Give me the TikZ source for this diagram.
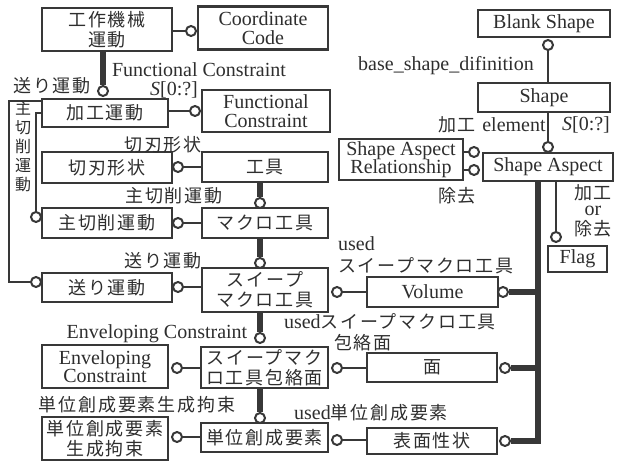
\documentclass[tikz,border=0pt]{standalone}
\usepackage{fontspec}
\setmainfont{Liberation Serif}
\newfontfamily\jp[LetterSpace=10]{Noto Sans CJK JP}
\newcommand{\J}[1]{{\jp\fontsize{18}{\baselineskip}\selectfont #1}}
\definecolor{linec}{gray}{0.22}
\definecolor{txtc}{gray}{0.18}
\begin{document}
\begin{tikzpicture}[x=1pt, y=-1pt,
  ent/.style={draw=linec, line width=2.4pt, fill=white, inner sep=0pt, text=txtc, align=center},
  lat/.style={font=\fontsize{20}{18.5}\selectfont},
  jpn/.style={font=\jp\fontsize{18}{20}\selectfont},
  ring/.style={circle, draw=linec, line width=2pt, fill=white, minimum size=10pt, inner sep=0pt},
  rel/.style={draw=linec, line width=2pt},
  isa/.style={draw=linec, line width=6pt},
  lbl/.style={text=txtc, inner sep=0pt, font=\fontsize{20}{17}\selectfont}]
    \useasboundingbox (0,0) rectangle (623,462);
    % entities, left half
    \node [ent, jpn, minimum width=130, minimum height=43] (kikai) at (107,29.5) {工作機械\\運動};
    \node [ent, lat, minimum width=130, minimum height=43] (coord) at (263,28) {Coordinate\\Code};
    \node [ent, jpn, minimum width=126, minimum height=28] (kakou) at (105,113) {加工運動};
    \node [ent, lat, minimum width=128, minimum height=42] (funccons) at (266,111) {Functional\\Constraint};
    \node [ent, jpn, minimum width=130, minimum height=31] (hakei) at (107,167.5) {切刃形状};
    \node [ent, jpn, minimum width=126, minimum height=30] (kougu) at (265,167) {工具};
    \node [ent, jpn, minimum width=130, minimum height=30] (shusaku) at (107,223) {主切削運動};
    \node [ent, jpn, minimum width=126, minimum height=30] (macro) at (265,223) {マクロ工具};
    \node [ent, jpn, minimum width=130, minimum height=29] (okuri) at (107,287.5) {送り運動};
    \node [ent, jpn, minimum width=126, minimum height=44] (sweep) at (265,290) {スイープ\\マクロ工具};
    \node [ent, lat, minimum width=126, minimum height=43] (envcons) at (105,366.5) {Enveloping\\Constraint};
    \node [ent, jpn, minimum width=127, minimum height=41] (houraku) at (264.5,367.5) {スイープマク\\ロ工具包絡面};
    \node [ent, jpn, minimum width=126, minimum height=43] (seiyaku) at (105,438.5) {単位創成要素\\生成拘束};
    \node [ent, jpn, minimum width=127, minimum height=29] (tani) at (264.5,437.5) {単位創成要素};
    % entities, right half
    \node [ent, lat, minimum width=131, minimum height=30] (volume) at (432.5,292) {Volume};
    \node [ent, jpn, minimum width=130, minimum height=29] (men) at (432,367.5) {面};
    \node [ent, jpn, minimum width=130, minimum height=26] (hyoumen) at (432,441) {表面性状};
    \node [ent, lat, minimum width=132, minimum height=27] (blank) at (544,23.5) {Blank Shape};
    \node [ent, lat, minimum width=132, minimum height=29] (shape) at (544,97.5) {Shape};
    \node [ent, lat, minimum width=130, minimum height=28] (aspect) at (548,167) {Shape Aspect};
    \node [ent, lat, minimum width=124, minimum height=41] (relation) at (401,159.5) {Shape Aspect\\Relationship};
    \node [ent, lat, minimum width=59, minimum height=26] (flag) at (577.5,259) {Flag};
    % rings
    \node [ring] (c1) at (191,31) {};
    \node [ring] (c2) at (103,91) {};
    \node [ring] (c3) at (195,111) {};
    \node [ring] (c4) at (178,167) {};
    \node [ring] (c5) at (260,203) {};
    \node [ring] (c6) at (178,223) {};
    \node [ring] (c7) at (260,263) {};
    \node [ring] (c8) at (178,287) {};
    \node [ring] (c9) at (260,338) {};
    \node [ring] (c10) at (177,368) {};
    \node [ring] (c11) at (260,418) {};
    \node [ring] (c12) at (177,437) {};
    \node [ring] (c13) at (337,292) {};
    \node [ring] (c14) at (503,292) {};
    \node [ring] (c15) at (337,368) {};
    \node [ring] (c16) at (505,368) {};
    \node [ring] (c17) at (337,440) {};
    \node [ring] (c18) at (505,441) {};
    \node [ring] (c19) at (548,45) {};
    \node [ring] (c20) at (548,147) {};
    \node [ring] (c21) at (474,152) {};
    \node [ring] (c22) at (474,170) {};
    \node [ring] (c23) at (556,237) {};
    \node [ring] (c24) at (36,282) {};
    \node [ring] (c25) at (36,217) {};
    \coordinate (tbot) at (538,441);
    % thick lines
    \draw [isa] (kikai.south -| c2) -- (c2);
    \draw [isa] (kougu.south -| c5) -- (c5);
    \draw [isa] (macro.south -| c7) -- (c7);
    \draw [isa] (sweep.south -| c9) -- (c9);
    \draw [isa] (houraku.south -| c11) -- (c11);
    \draw [isa] (aspect.south -| tbot) -- (tbot) -- (c18);
    \draw [isa] (c14) -- (c14 -| tbot);
    \draw [isa] (c16) -- (c16 -| tbot);
    % thin lines
    \draw [rel] (kikai.east |- c1) -- (c1);
    \draw [rel] (kakou.east |- c3) -- (c3);
    \draw [rel] (c4) -- (kougu.west |- c4);
    \draw [rel] (c6) -- (macro.west |- c6);
    \draw [rel] (c8) -- (sweep.west |- c8);
    \draw [rel] (c10) -- (houraku.west |- c10);
    \draw [rel] (c12) -- (tani.west |- c12);
    \draw [rel] (c13) -- (volume.west |- c13);
    \draw [rel] (c15) -- (men.west |- c15);
    \draw [rel] (c17) -- (hyoumen.west |- c17);
    \draw [rel] (c19) -- (shape.north -| c19);
    \draw [rel] (shape.south -| c20) -- (c20);
    \draw [rel] (relation.east |- c21) -- (c21);
    \draw [rel] (relation.east |- c22) -- (c22);
    \draw [rel] (aspect.south -| c23) -- (c23);
    \draw [rel] ([yshift=-3pt]kakou.north west) -- ++(-32,0) |- (c24);
    \draw [rel] (kakou.west) -- (kakou.west -| c25) -- (c25);
    % labels
    \node [lbl] (lokuri1) at (52,86) {\J{送り運動}};
    \node [lbl] (lfc) at (199,70) {Functional Constraint};
    \node [lbl] (lfcs) at (174,90) {\textit{S}[0:?]};
    \node [lbl] (lhakei) at (163,145) {\J{切刃形状}};
    \node [lbl] (lshusaku) at (174,196) {\J{主切削運動}};
    \node [lbl] (lokuri2) at (163,261) {\J{送り運動}};
    \node [lbl] (lenv) at (157,334) {Enveloping Constraint};
    \node [lbl] (lseiyaku) at (137,405) {\J{単位創成要素生成拘束}};
    \node [lbl, align=center, font=\jp\fontsize{16}{19}\selectfont] (lvert) at (23,146) {主\\切\\削\\運\\動};
    \node [lbl, anchor=west] (lused1) at (338,244) {used};
    \node [lbl, anchor=west] (lsweep1) at (338,266) {\J{スイープマクロ工具}};
    \node [lbl] (lused2) at (390,322) {used\J{スイープマクロ工具}};
    \node [lbl] (lhouraku) at (363,343) {\J{包絡面}};
    \node [lbl] (lused3) at (371,413) {used\J{単位創成要素}};
    \node [lbl] (lbase) at (446,66) {base\_shape\_difinition};
    \node [lbl] (lkakou) at (457,125) {\J{加工}};
    \node [lbl] (lelem) at (514,125) {element};
    \node [lbl] (lset) at (586,125) {\textit{S}[0:?]};
    \node [lbl] (ljokyo) at (457,196) {\J{除去}};
    \node [lbl] (lkakou2) at (593,193) {\J{加工}};
    \node [lbl] (lor) at (593,211) {or};
    \node [lbl] (ljokyo2) at (593,229) {\J{除去}};
\end{tikzpicture}
\end{document}
